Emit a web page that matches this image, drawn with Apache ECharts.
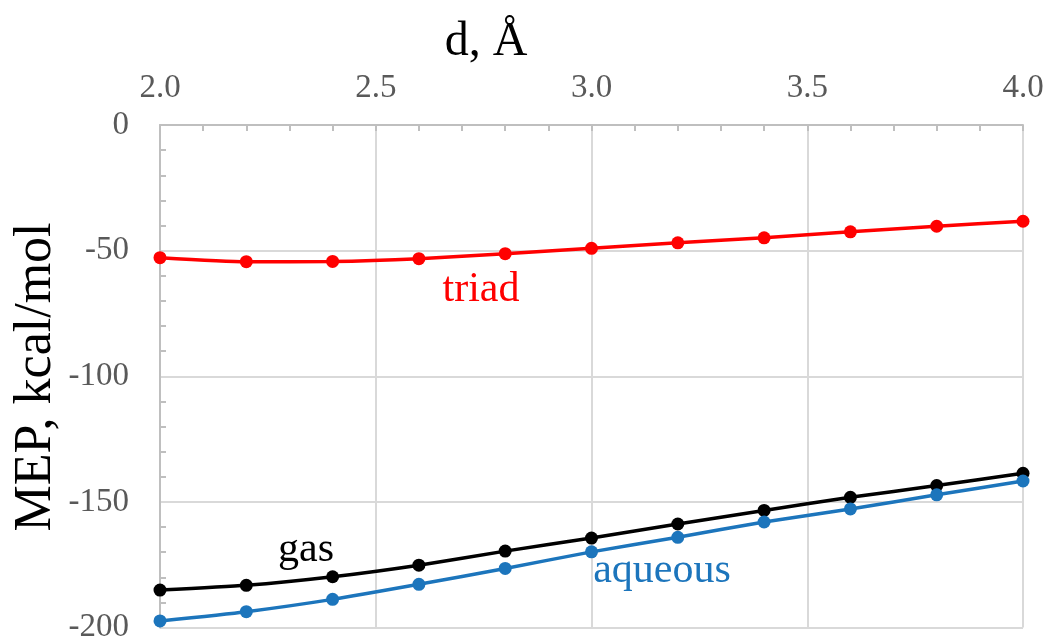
<!DOCTYPE html>
<html>
<head>
<meta charset="utf-8">
<script src="https://cdn.jsdelivr.net/npm/echarts@6/dist/echarts.min.js"></script>
<style>
html,body{margin:0;padding:0;background:#fff;}
#chart{width:1047px;height:644px;}
</style>
</head>
<body>
<div id="chart"></div>
<script>
const distances = [2.0, 2.2, 2.4, 2.6, 2.8, 3.0, 3.2, 3.4, 3.6, 3.8, 4.0];
const triad   = [-52.8, -54.4, -54.3, -53.2, -51.2, -49.1, -46.9, -44.9, -42.5, -40.3, -38.3];
const gas     = [-185.1, -183.2, -179.8, -175.2, -169.6, -164.4, -158.8, -153.4, -148.2, -143.5, -138.6];
const aqueous = [-197.4, -193.7, -188.8, -182.8, -176.5, -169.9, -164.1, -158.0, -152.8, -147.2, -141.7];
const seriesNames = ['triad', 'gas', 'aqueous'];
const xTitle = 'd, Å';
const yTitle = 'MEP, kcal/mol';

const FONT = '"Liberation Serif", "Times New Roman", serif';
const RED = '#ff0000', BLACK = '#000000', BLUE = '#1c75bc';

function pairs(ys){ return distances.map((x,i)=>[x, ys[i]]); }
function mkSeries(name, ys, color){
  return {
    name, type:'line', data: pairs(ys), smooth:0.2,
    symbol:'circle', symbolSize:13, showSymbol:true,
    lineStyle:{color, width:3.5}, itemStyle:{color},
    emphasis:{disabled:true}, animation:false, z:3
  };
}

const chart = echarts.init(document.getElementById('chart'), null, {renderer:'canvas'});
chart.setOption({
  backgroundColor:'#ffffff',
  animation:false,
  grid:{left:160, top:125, right:24, bottom:14, containLabel:false},
  xAxis:{
    type:'value', position:'top', min:2, max:4, interval:0.5,
    axisLine:{show:true, lineStyle:{color:'#bfbfbf', width:2}},
    axisTick:{show:true, inside:true, length:6, lineStyle:{color:'#bfbfbf', width:2}},
    minorTick:{show:true, splitNumber:5, length:6, lineStyle:{color:'#bfbfbf', width:2}},
    splitLine:{show:true, lineStyle:{color:'#d9d9d9', width:2}},
    axisLabel:{color:'#595959', fontFamily:FONT, fontSize:33, margin:20,
      formatter:v=>v.toFixed(1)}
  },
  yAxis:{
    type:'value', min:-200, max:0, interval:50,
    axisLine:{show:true, lineStyle:{color:'#bfbfbf', width:2}},
    axisTick:{show:false, inside:true, length:6, lineStyle:{color:'#bfbfbf', width:2}},
    minorTick:{show:true, splitNumber:5, length:6, lineStyle:{color:'#bfbfbf', width:2}},
    splitLine:{show:true, lineStyle:{color:'#d9d9d9', width:2}},
    axisLabel:{color:'#595959', fontFamily:FONT, fontSize:33, margin:31}
  },
  series:[
    mkSeries(seriesNames[0], triad, RED),
    mkSeries(seriesNames[1], gas, BLACK),
    mkSeries(seriesNames[2], aqueous, BLUE)
  ],
  graphic:[
    {type:'text', x:486, y:42, style:{text:xTitle, font:'48px '+FONT, fill:'#000', align:'center', verticalAlign:'middle'}},
    {type:'text', x:36, y:377, rotation:Math.PI/2,
      style:{text:yTitle, font:'52px '+FONT, fill:'#000', align:'center', verticalAlign:'middle'}},
    {type:'text', x:481, y:290, style:{text:seriesNames[0], font:'42px '+FONT, fill:RED, align:'center', verticalAlign:'middle'}},
    {type:'text', x:306, y:550, style:{text:seriesNames[1], font:'42px '+FONT, fill:BLACK, align:'center', verticalAlign:'middle'}},
    {type:'text', x:662, y:571, style:{text:seriesNames[2], font:'42px '+FONT, fill:BLUE, align:'center', verticalAlign:'middle'}}
  ]
});
</script>
</body>
</html>
